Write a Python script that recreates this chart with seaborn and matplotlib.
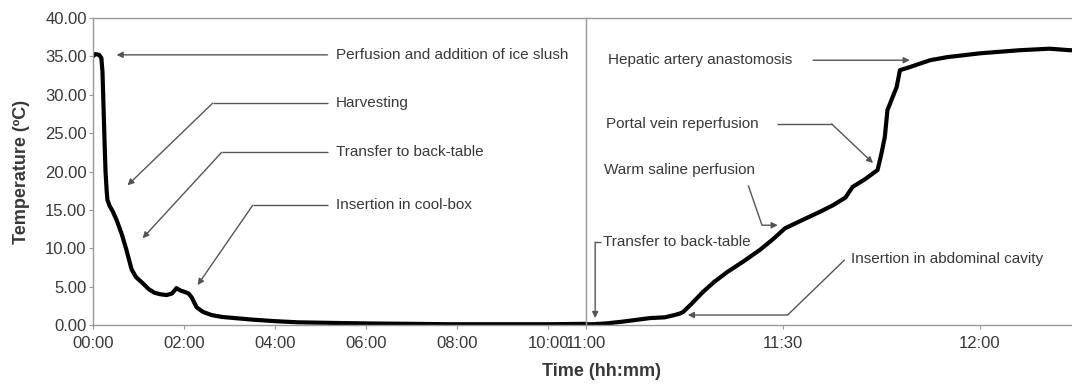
import matplotlib
matplotlib.use("Agg")
import matplotlib.pyplot as plt
import seaborn as sns
import pandas as pd

# ---- data (minutes since 00:00, temperature in degC) ----
left_minutes = [0, 3, 8, 11, 12.5, 14, 15.5, 16.5, 18, 19, 22, 26, 31, 38, 44, 48, 51, 57,
                65, 73, 81, 89, 97, 104, 110, 115, 121, 126, 130, 133, 136.5, 145, 156,
                170, 187, 210, 240, 270, 299, 330, 365, 420, 470, 550, 600, 649]
left_temp = [35.0, 35.3, 35.2, 34.8, 33.0, 28.0, 23.0, 20.0, 17.5, 16.3, 15.5, 14.8, 13.7,
             11.8, 9.8, 8.3, 7.2, 6.2, 5.5, 4.7, 4.2, 4.0, 3.9, 4.1, 4.8, 4.5, 4.3, 4.1,
             3.6, 3.0, 2.3, 1.7, 1.3, 1.05, 0.9, 0.7, 0.5, 0.35, 0.3, 0.25, 0.2, 0.15,
             0.1, 0.1, 0.1, 0.15]

right_minutes = [660, 661, 663, 665.2, 667.5, 669.7, 672, 673.5, 674.3, 674.8, 676, 677.8,
                 679.5, 681.5, 684, 686.5, 688.5, 690.3, 693, 695.5, 697.6, 699.5, 700.6,
                 702.5, 704.4, 705, 705.5, 705.9, 706.6, 707.3, 707.8, 709.3, 711, 712.4,
                 715, 720, 726, 730.6, 733.7, 734]
right_temp = [0.1, 0.1, 0.2, 0.4, 0.65, 0.9, 1.0, 1.3, 1.5, 1.7, 2.7, 4.3, 5.6, 6.9, 8.3,
              9.8, 11.2, 12.6, 13.7, 14.7, 15.6, 16.6, 18.0, 19.0, 20.2, 22.4, 24.5, 28.0,
              29.5, 31.0, 33.2, 33.6, 34.1, 34.5, 34.9, 35.4, 35.8, 36.0, 35.8, 35.8]

y_ticks = [0, 5, 10, 15, 20, 25, 30, 35, 40]
left_ticks = [0, 120, 240, 360, 480, 600]
left_tick_labels = ["00:00", "02:00", "04:00", "06:00", "08:00", "10:00"]
right_ticks = [660, 690, 720]
right_tick_labels = ["11:00", "11:30", "12:00"]

# annotations: text and polyline path ending at the arrow tip
left_annotations = [
    ("Perfusion and addition of ice slush", [(309, 35.2), (31, 35.2)]),
    ("Harvesting", [(309, 28.9), (157.6, 28.9), (45.5, 18.2)]),
    ("Transfer to back-table", [(309, 22.5), (169.5, 22.5), (65.3, 11.3)]),
    ("Insertion in cool-box", [(309, 15.6), (210.4, 15.6), (137.8, 5.2)]),
]
right_annotations = [
    ("Hepatic artery anastomosis", (663.3, 34.5), [(694.6, 34.5), (709.3, 34.5)]),
    ("Portal vein reperfusion", (663.0, 26.2), [(689.1, 26.2), (697.4, 26.2), (703.7, 21.1)]),
    ("Warm saline perfusion", (662.7, 20.2), [(684.7, 18.2), (686.8, 13.0), (689.2, 13.0)]),
    ("Transfer to back-table", (662.6, 10.8), [(662.3, 10.8), (661.4, 10.8), (661.4, 0.9)]),
    ("Insertion in abdominal cavity", (700.3, 8.6), [(699.4, 8.5), (690.7, 1.3), (675.5, 1.3)]),
]

sns.set_theme(style="white")
plt.rcParams["font.family"] = ["Liberation Sans", "DejaVu Sans"]

fig = plt.figure(figsize=(10.72, 3.85), dpi=100)
axL = fig.add_axes([93 / 1072, 60 / 385, (586 - 93) / 1072, 307 / 385])
axR = fig.add_axes([586 / 1072, 60 / 385, (1072 - 586) / 1072, 307 / 385], sharey=axL)

dfL = pd.DataFrame({"t": left_minutes, "T": left_temp})
dfR = pd.DataFrame({"t": right_minutes, "T": right_temp})
sns.lineplot(data=dfL, x="t", y="T", ax=axL, color="black", linewidth=3.0, sort=False)
sns.lineplot(data=dfR, x="t", y="T", ax=axR, color="black", linewidth=3.0, sort=False)

spine_col = "#9a9a9a"
txt_col = "#383838"
arr_col = "#555555"

for ax in (axL, axR):
    ax.set_ylim(0, 40)
    ax.set_xlabel("")
    ax.set_ylabel("")
    for s in ax.spines.values():
        s.set_color(spine_col)
        s.set_linewidth(1.0)
    ax.spines["right"].set_visible(False)
    ax.tick_params(axis="both", colors=spine_col, labelcolor=txt_col, labelsize=12,
                   length=3, width=0.8, direction="out")
    ax.tick_params(axis="x", pad=5)
    ax.tick_params(axis="y", pad=1.5)

axL.set_xlim(0, 649.5)
axL.set_xticks(left_ticks)
axL.set_xticklabels(left_tick_labels)
axL.set_yticks(y_ticks)
axL.set_yticklabels([f"{v:.2f}" for v in y_ticks])
axL.tick_params(axis="x", bottom=True)
axL.tick_params(axis="y", left=True)

axR.set_xlim(660, 734)
axR.set_xticks(right_ticks)
axR.set_xticklabels(right_tick_labels)
axR.tick_params(axis="y", left=False, labelleft=False)
axR.tick_params(axis="x", bottom=True)


def draw_path(ax, path):
    xs = [p[0] for p in path]
    ys = [p[1] for p in path]
    ax.plot(xs[:-1], ys[:-1], color=arr_col, lw=1.0, solid_capstyle="butt")
    ax.annotate("", xy=path[-1], xytext=path[-2],
                arrowprops=dict(arrowstyle="-|>", color=arr_col, lw=1.0,
                                mutation_scale=9, shrinkA=0, shrinkB=0))


for text, path in left_annotations:
    draw_path(axL, path)
    axL.text(path[0][0] + 11, path[0][1], text, va="center", ha="left",
             fontsize=11, color=txt_col)

for text, pos, path in right_annotations:
    draw_path(axR, path)
    axR.text(pos[0], pos[1], text, va="center", ha="left", fontsize=11, color=txt_col)

fig.text(22 / 1072, 1 - 172 / 385, "Temperature (ºC)", rotation=90, va="center",
         ha="center", fontsize=13, fontweight="bold", color=txt_col)
fig.text(602 / 1072, 14 / 385, "Time (hh:mm)", va="center", ha="center",
         fontsize=13, fontweight="bold", color=txt_col)

fig.savefig("out.png", dpi=100, facecolor="white")
